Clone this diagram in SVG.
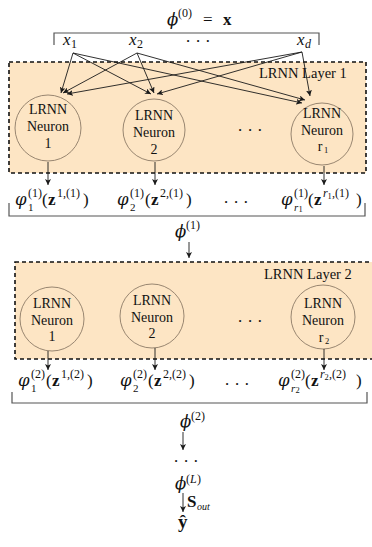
<svg xmlns="http://www.w3.org/2000/svg" width="372" height="547" viewBox="0 0 372 547">
  <style>
    text { font-family: "Liberation Serif", "DejaVu Serif", serif; fill: #111; }
    .g { font-family: "DejaVu Serif", serif; font-style: italic; font-size: 16.5px; }
    .m { font-size: 17px; }
    .i { font-style: italic; }
    .b { font-weight: bold; }
    .s { font-size: 12px; }
    .u { font-size: 11px; }
    .t { font-size: 8.5px; }
    .lbl { font-size: 14px; text-anchor: middle; }
    .ttl { font-size: 14.5px; }
    .layer { fill: #fde5c4; stroke: #111; stroke-width: 1.6; stroke-dasharray: 4 3; }
    .neuron { fill: none; stroke: #8c7b66; stroke-width: 0.9; }
    .brace { fill: none; stroke: #555; stroke-width: 1.2; }
    .edge { fill: none; stroke: #1a1a1a; stroke-width: 0.9; marker-end: url(#ah); }
  </style>
  <defs>
    <marker id="ah" markerUnits="userSpaceOnUse" markerWidth="7" markerHeight="6" refX="6" refY="3" orient="auto">
      <path d="M0,0 L6,3 L0,6 L1.5,3 z" fill="#1a1a1a"/>
    </marker>
  </defs>

  <!-- input vector -->
  <g id="input">
    <text class="g" x="167" y="25">ϕ</text>
    <text class="s" x="178" y="17">(0)</text>
    <text class="m" x="203" y="25">=</text>
    <text class="m b" x="223" y="25">x</text>
    <path class="brace" d="M54,45 V33 H319 V45"/>
    <text class="m i" x="63" y="45">x</text><text class="s" x="71" y="48">1</text>
    <text class="m i" x="129" y="45">x</text><text class="s" x="137" y="48">2</text>
    <text class="m" x="198" y="47" text-anchor="middle">· · ·</text>
    <text class="m i" x="297" y="45">x</text><text class="s i" x="305" y="48">d</text>
  </g>

  <!-- layer 1 -->
  <g id="layer1">
    <rect class="layer" x="9" y="62" width="357" height="111"/>
    <text class="ttl" x="259" y="78">LRNN Layer 1</text>
    <text class="m" x="250" y="136" text-anchor="middle">· · ·</text>
  </g>
  <g id="l1n1">
    <circle class="neuron" cx="48" cy="128" r="33"/>
    <text class="lbl" x="48" y="114">LRNN</text>
    <text class="lbl" x="48" y="131">Neuron</text>
    <text class="lbl" x="48" y="148">1</text>
  </g>
  <g id="l1n2">
    <circle class="neuron" cx="154" cy="130" r="31"/>
    <text class="lbl" x="154" y="120">LRNN</text>
    <text class="lbl" x="154" y="137">Neuron</text>
    <text class="lbl" x="154" y="154">2</text>
  </g>
  <g id="l1nr">
    <circle class="neuron" cx="322" cy="134" r="31"/>
    <text class="lbl" x="322" y="118">LRNN</text>
    <text class="lbl" x="322" y="135">Neuron</text>
    <text class="lbl" x="320" y="151">r</text><text class="t" x="324" y="153">1</text>
  </g>

  <!-- layer 1 outputs -->
  <g id="out1">
    <text class="g" x="15" y="205">φ</text>
    <text class="s" x="28" y="197">(1)</text><text class="u" x="28" y="210.5">1</text>
    <text class="m" x="42" y="205">(</text><text class="m b" x="48" y="205">z</text>
    <text class="s" x="57" y="197">1,(1)</text>
    <text class="m" x="83" y="205">)</text>

    <text class="g" x="117" y="205">φ</text>
    <text class="s" x="130" y="197">(1)</text><text class="u" x="130" y="210.5">2</text>
    <text class="m" x="145" y="205">(</text><text class="m b" x="151" y="205">z</text>
    <text class="s" x="160" y="197">2,(1)</text>
    <text class="m" x="186" y="205">)</text>

    <text class="m" x="236" y="208" text-anchor="middle">· · ·</text>

    <text class="g" x="281" y="205">φ</text>
    <text class="s" x="294" y="197">(1)</text>
    <text class="u i" x="294" y="210.5">r</text><text class="t" x="298.5" y="212">1</text>
    <text class="m" x="308" y="205">(</text><text class="m b" x="314" y="205">z</text>
    <text class="s i" x="323" y="197">r</text><text class="t" x="327.5" y="199">1</text>
    <text class="s" x="332" y="197">,(1)</text>
    <text class="m" x="356" y="205">)</text>

    <path class="brace" d="M9,203 V216 H365 V203"/>
    <text class="g" x="175" y="237">ϕ</text>
    <text class="s" x="186" y="229">(1)</text>
  </g>

  <!-- layer 2 -->
  <g id="layer2">
    <rect class="layer" x="15" y="262" width="362" height="97"/>
    <text class="ttl" x="264" y="279">LRNN Layer 2</text>
    <text class="m" x="250" y="327" text-anchor="middle">· · ·</text>
  </g>
  <g id="l2n1">
    <circle class="neuron" cx="52" cy="319" r="32"/>
    <text class="lbl" x="52" y="308">LRNN</text>
    <text class="lbl" x="52" y="325">Neuron</text>
    <text class="lbl" x="52" y="341">1</text>
  </g>
  <g id="l2n2">
    <circle class="neuron" cx="152" cy="316" r="32"/>
    <text class="lbl" x="152" y="305">LRNN</text>
    <text class="lbl" x="152" y="322">Neuron</text>
    <text class="lbl" x="152" y="338">2</text>
  </g>
  <g id="l2nr">
    <circle class="neuron" cx="323" cy="317" r="32"/>
    <text class="lbl" x="323" y="308">LRNN</text>
    <text class="lbl" x="323" y="325">Neuron</text>
    <text class="lbl" x="321" y="342">r</text><text class="t" x="325" y="344">2</text>
  </g>

  <!-- layer 2 outputs -->
  <g id="out2">
    <text class="g" x="18" y="386">φ</text>
    <text class="s" x="31" y="378">(2)</text><text class="u" x="31" y="391.5">1</text>
    <text class="m" x="46" y="386">(</text><text class="m b" x="52" y="386">z</text>
    <text class="s" x="61" y="378">1,(2)</text>
    <text class="m" x="87" y="386">)</text>

    <text class="g" x="120" y="386">φ</text>
    <text class="s" x="133" y="378">(2)</text><text class="u" x="133" y="391.5">2</text>
    <text class="m" x="148" y="386">(</text><text class="m b" x="154" y="386">z</text>
    <text class="s" x="163" y="378">2,(2)</text>
    <text class="m" x="189" y="386">)</text>

    <text class="m" x="237" y="390" text-anchor="middle">· · ·</text>

    <text class="g" x="278" y="386">φ</text>
    <text class="s" x="291" y="378">(2)</text>
    <text class="u i" x="291" y="391.5">r</text><text class="t" x="295.5" y="393">2</text>
    <text class="m" x="305" y="386">(</text><text class="m b" x="311" y="386">z</text>
    <text class="s i" x="320" y="378">r</text><text class="t" x="324.5" y="380">2</text>
    <text class="s" x="329" y="378">,(2)</text>
    <text class="m" x="356" y="386">)</text>

    <path class="brace" d="M12,392 V403 H367 V392"/>
  </g>

  <!-- deeper layers and output -->
  <g id="tail">
    <text class="g" x="180" y="427">ϕ</text>
    <text class="s" x="191" y="420">(2)</text>
    <text class="m" x="186" y="467" text-anchor="middle">· · ·</text>
    <text class="g" x="175" y="489">ϕ</text>
    <text class="s" x="186" y="483">(</text><text class="s i" x="190" y="483">L</text><text class="s" x="197" y="483">)</text>
    <text class="m b" x="187" y="507">S</text><text class="s i" x="197" y="510" style="font-size:10px">out</text>
    <text class="b" x="178" y="528" style="font-size:19px">ŷ</text>
  </g>

  <!-- connectors -->
  <g id="edges">
    <line class="edge" x1="73" y1="53" x2="61" y2="93"/>
    <line class="edge" x1="137" y1="53" x2="63" y2="93"/>
    <line class="edge" x1="302" y1="52" x2="67" y2="94"/>
    <line class="edge" x1="73" y1="53" x2="151" y2="94"/>
    <line class="edge" x1="137" y1="53" x2="154" y2="93"/>
    <line class="edge" x1="302" y1="52" x2="157" y2="94"/>
    <line class="edge" x1="73" y1="53" x2="302" y2="103"/>
    <line class="edge" x1="137" y1="53" x2="305" y2="100"/>
    <line class="edge" x1="302" y1="52" x2="310" y2="96"/>

    <line class="edge" x1="48" y1="162" x2="48" y2="185"/>
    <line class="edge" x1="155" y1="162" x2="155" y2="185"/>
    <line class="edge" x1="324" y1="166" x2="324" y2="185"/>
    <line class="edge" x1="189" y1="242" x2="189" y2="258"/>

    <line class="edge" x1="48" y1="351" x2="48" y2="370"/>
    <line class="edge" x1="155" y1="348" x2="155" y2="370"/>
    <line class="edge" x1="324" y1="349" x2="324" y2="370"/>

    <line class="edge" x1="183" y1="432" x2="183" y2="450"/>
    <line class="edge" x1="183" y1="493" x2="183" y2="512"/>
  </g>
</svg>
